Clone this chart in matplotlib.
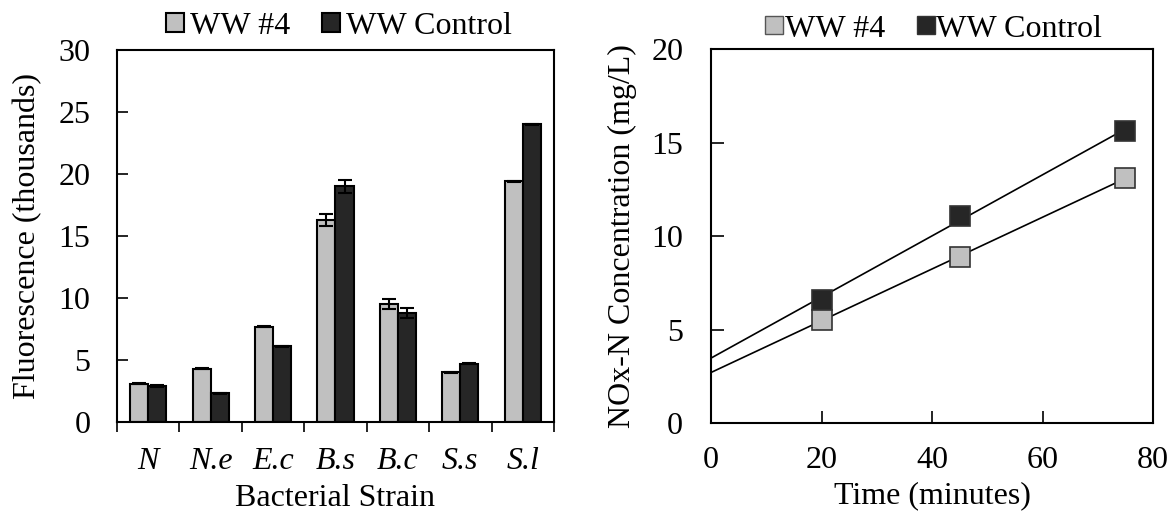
import numpy as np
import matplotlib.pyplot as plt
from matplotlib.lines import Line2D

plt.rcParams["font.family"] = ["Liberation Serif", "DejaVu Serif"]
plt.rcParams["font.size"] = 23

# Fluorescence per strain (thousands)
strains = ["N", "N.e", "E.c", "B.s", "B.c", "S.s", "S.l"]
ww4 = [3.1, 4.3, 7.7, 16.3, 9.5, 4.0, 19.4]
ww4_err = [0.05, 0.05, 0.05, 0.5, 0.4, 0.05, 0.05]
control = [2.9, 2.3, 6.1, 19.0, 8.8, 4.7, 24.0]
control_err = [0.05, 0.05, 0.05, 0.5, 0.4, 0.05, 0.05]

# NOx-N over time (mg/L)
time_min = [20, 45, 75]
nox_ww4 = [5.5, 8.9, 13.1]
nox_control = [6.6, 11.1, 15.6]

light = "#c0c0c0"
dark = "#262626"

fig = plt.figure(figsize=(11.7, 5.15), dpi=100)
ax1 = fig.add_axes([0.1, 0.1806, 0.3735, 0.7224])
ax2 = fig.add_axes([0.6077, 0.178, 0.3778, 0.727])

# --- bar chart ---
x = np.arange(len(strains))
w = 0.29
err_kw = dict(elinewidth=1.5, capthick=1.5, ecolor="black")
ax1.bar(x - w / 2, ww4, w, yerr=ww4_err, capsize=5, color=light,
        edgecolor="black", linewidth=1.5, label="WW #4", error_kw=err_kw)
ax1.bar(x + w / 2, control, w, yerr=control_err, capsize=5, color=dark,
        edgecolor="black", linewidth=1.5, label="WW Control", error_kw=err_kw)
ax1.set_xlim(-0.5, len(strains) - 0.5)
ax1.set_ylim(0, 30)
ax1.set_yticks(range(0, 31, 5))
ax1.set_xticks(x)
ax1.set_xticklabels(strains, fontstyle="italic")
ax1.set_xticks(np.arange(-0.5, len(strains)), minor=True)
ax1.tick_params(axis="x", which="major", length=0, pad=18)
ax1.tick_params(axis="x", which="minor", direction="out", length=7, width=1.2)
ax1.tick_params(axis="y", direction="in", length=8, width=1.2, pad=19)
ax1.set_xlabel("Bacterial Strain", labelpad=6)
ax1.set_ylabel("Fluorescence (thousands)", labelpad=12)
ax1.legend(loc="lower center", bbox_to_anchor=(0.508, 0.99), ncol=2,
           frameon=False, handlelength=0.56, handleheight=0.56,
           handletextpad=0.2, columnspacing=1.0, borderaxespad=0)

# --- NOx time series with linear fits ---
xfit = np.array([0, max(time_min)])
for y, c in [(nox_control, dark), (nox_ww4, light)]:
    slope, icpt = np.polyfit(time_min, y, 1)
    ax2.plot(xfit, slope * xfit + icpt, color="black", linewidth=1.2, zorder=2)
    ax2.plot(time_min, y, linestyle="none", marker="s", markersize=14,
             markerfacecolor=c, markeredgecolor="#333333",
             markeredgewidth=1.2, zorder=3)
ax2.set_xlim(0, 80)
ax2.set_ylim(0, 20)
ax2.set_xticks(range(0, 81, 20))
ax2.set_yticks(range(0, 21, 5))
ax2.tick_params(axis="x", direction="in", length=9, width=1.2, pad=16)
ax2.tick_params(axis="y", direction="in", length=9, width=1.2, pad=20)
ax2.set_xlabel("Time (minutes)", labelpad=5)
ax2.set_ylabel("NOx-N Concentration (mg/L)", labelpad=10)
handles = [
    Line2D([], [], linestyle="none", marker="s", markersize=13,
           markerfacecolor=light, markeredgecolor="#555555"),
    Line2D([], [], linestyle="none", marker="s", markersize=13,
           markerfacecolor=dark, markeredgecolor="#333333"),
]
ax2.legend(handles, ["WW #4", "WW Control"], loc="lower center",
           bbox_to_anchor=(0.5035, 0.98), ncol=2, frameon=False,
           handlelength=0.56, handletextpad=0.05, columnspacing=1.0,
           borderaxespad=0)

for ax in (ax1, ax2):
    for s in ax.spines.values():
        s.set_linewidth(1.5)

fig.savefig("out.png", dpi=100)
